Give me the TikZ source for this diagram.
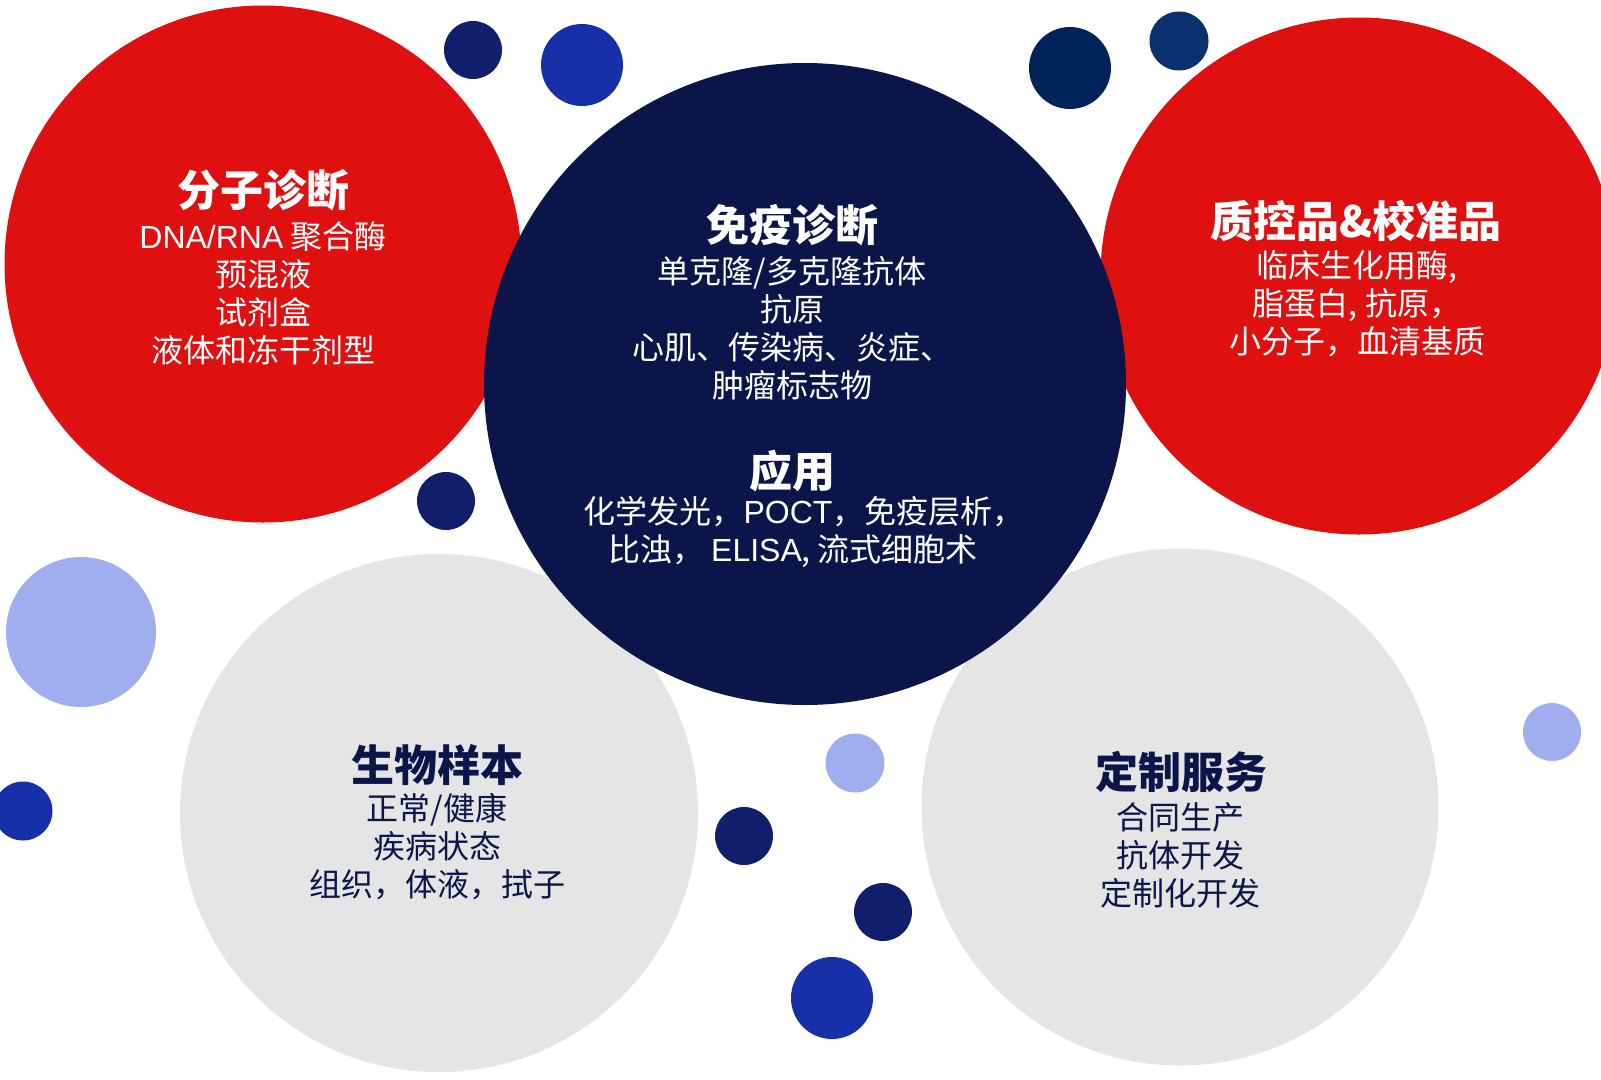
\documentclass[tikz,border=0pt]{standalone}
\usepackage{fontspec}
\setmainfont{Noto Sans CJK SC}
\newfontfamily\latinfont{Liberation Sans}
\usetikzlibrary{positioning}
\definecolor{brandred}{RGB}{222,16,16}
\definecolor{navy}{RGB}{11,21,73}
\definecolor{dotnavy}{RGB}{17,30,108}
\definecolor{dotblue}{RGB}{23,48,168}
\definecolor{deepnavy}{RGB}{0,36,90}
\definecolor{midnavy}{RGB}{10,48,110}
\definecolor{paleblue}{RGB}{160,174,240}
\colorlet{lightgray}{black!10}
\newcommand{\latn}[1]{{\latinfont #1}}
\tikzset{bubble/.style={circle, inner sep=0pt, minimum size=#1}}

\begin{document}
\begin{tikzpicture}[x=1pt, y=-1pt, headline/.style={inner sep=0pt, font=\bfseries\fontsize{43}{47}\selectfont, text=#1}, bodylines/.style={inner sep=0pt, align=center, font=\fontsize{32}{38}\selectfont, text=#1}]

    \clip (0,0) rectangle (1601,1079);
    \fill[white] (0,0) rectangle (1601,1079);

    % Big circles
    \node[bubble=517pt, fill=brandred] (molc) at (263,264) {};
    \node[bubble=517pt, fill=brandred] (qcc) at (1359,276) {};
    \node[bubble=518pt, fill=lightgray] (samplec) at (439,813) {};
    \node[bubble=517pt, fill=lightgray] (servc) at (1180,807) {};
    \node[bubble=642pt, fill=navy] (immc) at (805,384) {};

    % Small circles
    \node[bubble=58pt, fill=dotnavy] (d1) at (473,50) {};
    \node[bubble=82pt, fill=dotblue] (d2) at (582,65) {};
    \node[bubble=82pt, fill=deepnavy] (d3) at (1070,68) {};
    \node[bubble=59pt, fill=midnavy] (d4) at (1179,41) {};
    \node[bubble=58pt, fill=dotnavy] (d5) at (446,501) {};
    \node[bubble=150pt, fill=paleblue] (d6) at (81,632) {};
    \node[bubble=59pt, fill=dotblue] (d7) at (23,811) {};
    \node[bubble=59pt, fill=paleblue] (d8) at (855,763) {};
    \node[bubble=58pt, fill=dotnavy] (d9) at (744,836) {};
    \node[bubble=58pt, fill=dotnavy] (d10) at (883,912) {};
    \node[bubble=82pt, fill=dotblue] (d11) at (832,998) {};
    \node[bubble=58pt, fill=paleblue] (d12) at (1552,732) {};

    % Texts
    \node[headline=white] (moltitle) at (263,190) {分子诊断};
    \node[bodylines=white] (moltext) at (263,293) {\latn{DNA/RNA} 聚合酶\\预混液\\试剂盒\\液体和冻干剂型};

    \node[headline=white] (immtitle) at (792,225) {免疫诊断};
    \node[bodylines=white] (immtext) at (792,328.5) {单克隆/多克隆抗体\\抗原\\心肌、传染病、炎症、\\肿瘤标志物};
    \node[headline=white] (apptitle) at (792,471) {应用};
    \node[bodylines=white] (apptext) at (793,531.5) {化学发光，\latn{POCT}，免疫层析\makebox[10pt][l]{，}\\比浊， \latn{ELISA}, 流式细胞术};

    \node[headline=white] (qctitle) at (1356,221) {质控品\&校准品};
    \node[bodylines=white] (qctext) at (1357,304) {临床生化用酶,\\脂蛋白, 抗原，\\小分子，血清基质};

    \node[headline=navy] (sampletitle) at (437,765) {生物样本};
    \node[bodylines=navy] (sampletext) at (437,847) {正常/健康\\疾病状态\\组织，体液，拭子};

    \node[headline=navy] (servtitle) at (1181,772) {定制服务};
    \node[bodylines=navy] (servtext) at (1180,855) {合同生产\\抗体开发\\定制化开发};
\end{tikzpicture}
\end{document}
